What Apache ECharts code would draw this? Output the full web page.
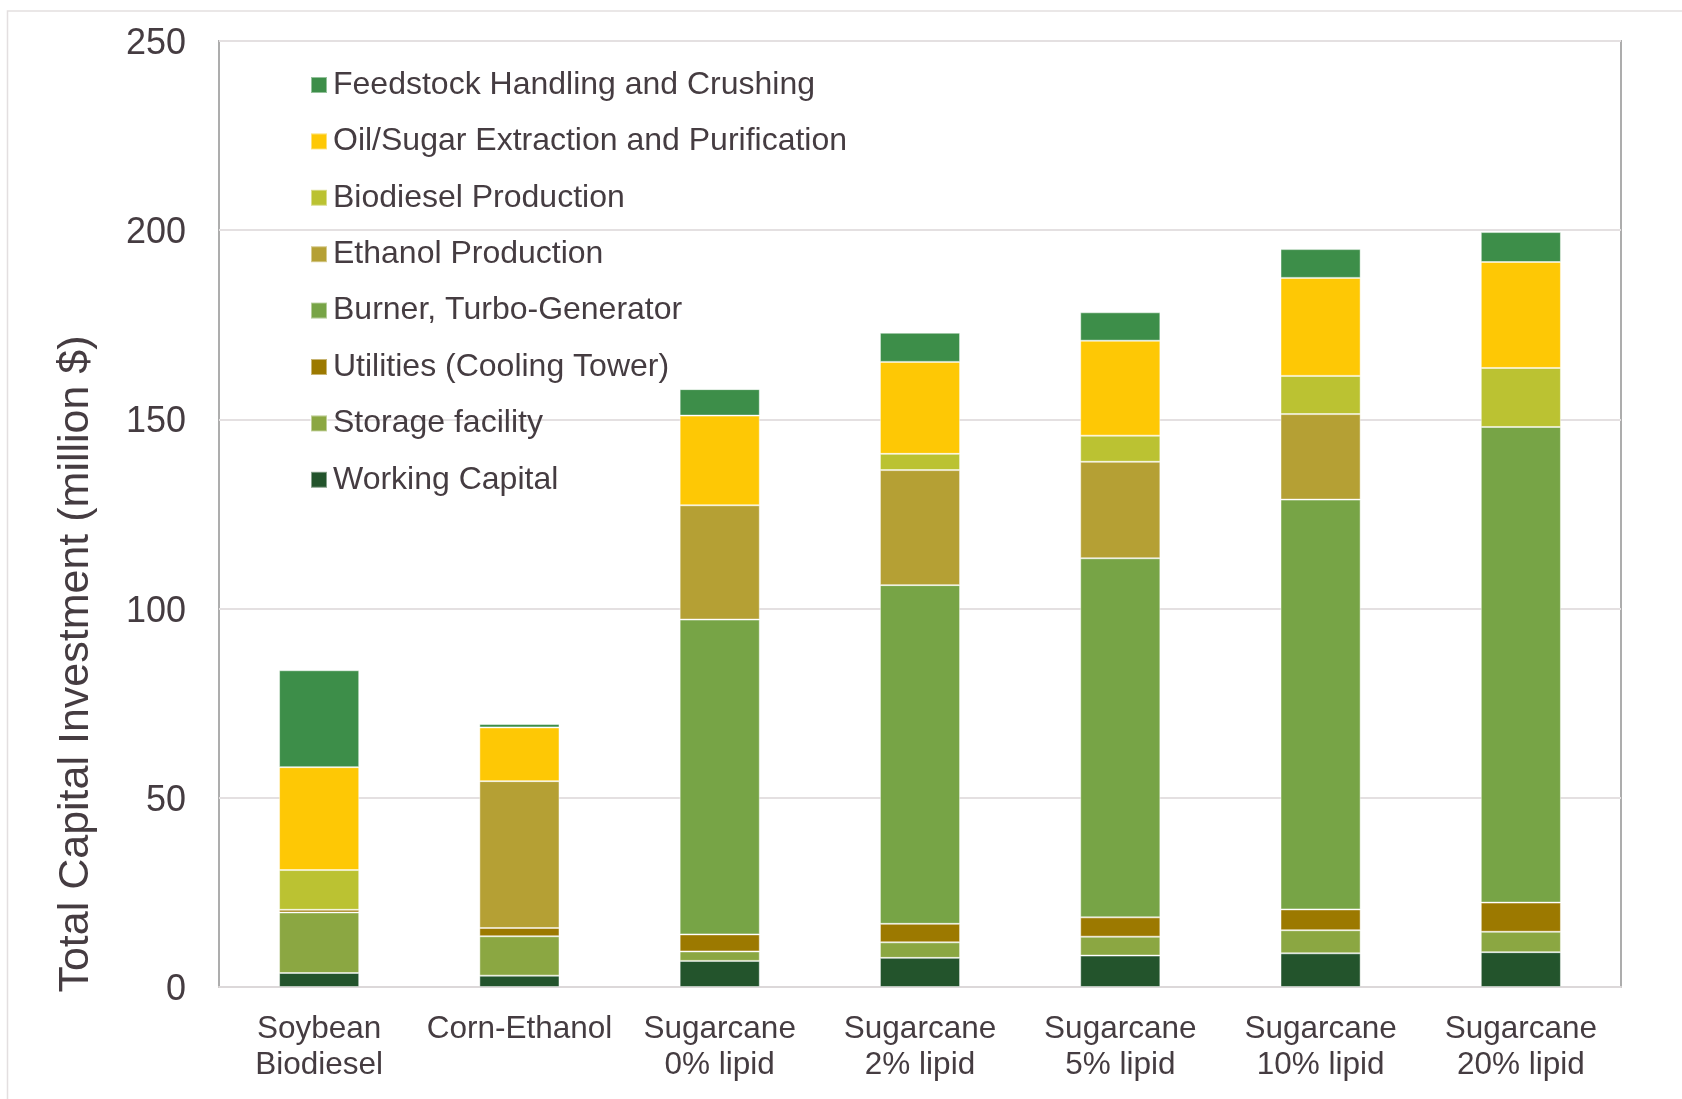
<!DOCTYPE html>
<html>
<head>
<meta charset="utf-8">
<title>Total Capital Investment</title>
<script src="https://cdn.jsdelivr.net/npm/echarts@6/dist/echarts.min.js"></script>
<style>
  html, body { margin: 0; padding: 0; background: #ffffff; }
  #chart { width: 1682px; height: 1099px; }
</style>
</head>
<body>
<div id="chart"></div>
<script>
// Pathway categories (x axis)
const categories = [
  'Soybean\nBiodiesel', 'Corn-Ethanol',
  'Sugarcane\n0% lipid', 'Sugarcane\n2% lipid', 'Sugarcane\n5% lipid',
  'Sugarcane\n10% lipid', 'Sugarcane\n20% lipid'
];

// Capital cost components, million $ (null = process not present)
const workingCapital = [3.7, 3.0, 6.9, 7.7, 8.3, 8.9, 9.2];
const storageFacility = [16.0, 10.4, 2.5, 4.1, 5.0, 6.1, 5.4];
const utilities = [0.7, 2.2, 4.5, 4.9, 5.1, 5.5, 7.7];
const burnerTurbo = [null, null, 83.2, 89.5, 94.9, 108.3, 125.7];
const ethanolProduction = [null, 38.8, 30.2, 30.4, 25.5, 22.6, null];
const biodieselProduction = [10.5, null, null, 4.3, 6.9, 10.1, 15.6];
const oilSugarExtraction = [27.2, 14.2, 23.7, 24.3, 25.1, 25.9, 28.0];
const feedstockHandling = [25.6, 0.9, 7.0, 7.7, 7.5, 7.6, 7.9];

// Y axis ticks
const yTicks = [0, 50, 100, 150, 200, 250];

const FONT = '"Liberation Sans", Arial, sans-serif';
const TEXT = '#453c41';

// Bottom-to-top stacking order
const stackSeries = [
  { name: 'Working Capital', data: workingCapital, color: '#23542c' },
  { name: 'Storage facility', data: storageFacility, color: '#8ba742' },
  { name: 'Utilities (Cooling Tower)', data: utilities, color: '#9c7900' },
  { name: 'Burner, Turbo-Generator', data: burnerTurbo, color: '#77a446' },
  { name: 'Ethanol Production', data: ethanolProduction, color: '#b5a034' },
  { name: 'Biodiesel Production', data: biodieselProduction, color: '#bbc232' },
  { name: 'Oil/Sugar Extraction and Purification', data: oilSugarExtraction, color: '#fec805' },
  { name: 'Feedstock Handling and Crushing', data: feedstockHandling, color: '#3d8e49' }
];

const chart = echarts.init(document.getElementById('chart'), null, { renderer: 'canvas' });

chart.setOption({
  animation: false,
  backgroundColor: '#ffffff',
  textStyle: { fontFamily: FONT, color: TEXT },
  graphic: [{
    // outer chart-area frame
    type: 'rect',
    silent: true,
    z: -10,
    shape: { x: 7.5, y: 11, width: 2000, height: 2000 },
    style: { fill: 'none', stroke: '#e3dfe0', lineWidth: 1.5 }
  }],
  grid: {
    left: 219, right: 61, top: 41, bottom: 112,
    show: true,
    borderColor: '#adadad',
    borderWidth: 2,
    backgroundColor: 'transparent'
  },
  legend: {
    orient: 'vertical',
    left: 310,
    top: 69,
    padding: 0,
    itemWidth: 16,
    itemHeight: 16,
    itemGap: 24.4,
    icon: 'rect',
    data: stackSeries.map(s => s.name).reverse(),
    textStyle: {
      fontFamily: FONT, fontSize: 32, color: TEXT,
      lineHeight: 32, padding: [0, 0, 0, 1]
    }
  },
  xAxis: {
    type: 'category',
    data: categories,
    axisTick: { show: false },
    axisLine: { show: true, lineStyle: { color: '#dcd8d9', width: 2 } },
    axisLabel: {
      fontFamily: FONT, fontSize: 31.5, color: TEXT,
      lineHeight: 36, margin: 24, interval: 0
    }
  },
  yAxis: {
    type: 'value',
    min: yTicks[0],
    max: yTicks[yTicks.length - 1],
    interval: 50,
    name: 'Total Capital Investment (million $)',
    nameLocation: 'middle',
    nameRotate: 90,
    nameGap: 121,
    nameTextStyle: {
      fontFamily: FONT, fontSize: 43, color: TEXT,
      padding: [0, 300, 0, 0]
    },
    axisLine: { show: false },
    axisTick: { show: false },
    axisLabel: {
      margin: 33,
      formatter: '{t|{value}}',
      rich: {
        t: {
          fontFamily: FONT, fontSize: 36, color: TEXT,
          lineHeight: 36, padding: [6, 0, 0, 0]
        }
      }
    },
    splitLine: { show: true, lineStyle: { color: '#e4e0e1', width: 2 } }
  },
  series: stackSeries.map(s => ({
    name: s.name,
    type: 'bar',
    stack: 'total',
    barWidth: '40%',
    data: s.data,
    itemStyle: {
      color: s.color,
      borderColor: 'rgba(255,255,255,0.45)',
      borderWidth: 1
    },
    emphasis: { disabled: true }
  }))
});
</script>
</body>
</html>
